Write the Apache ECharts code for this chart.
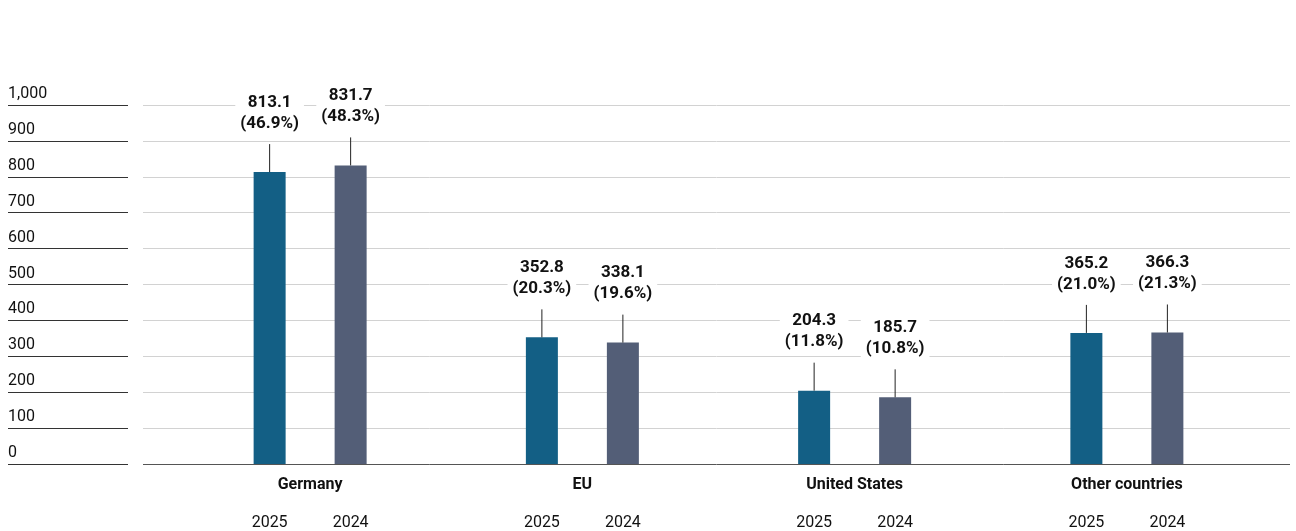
<!DOCTYPE html>
<html>
<head>
<meta charset="utf-8">
<script src="https://cdn.jsdelivr.net/npm/echarts@6/dist/echarts.min.js"></script>
<style>
  html, body { margin: 0; padding: 0; background: #fff; }
  #chart { width: 1296px; height: 531px; }
</style>
</head>
<body>
<div id="chart"></div>
<script>
// Export destinations, values in billions with share of total
const categories = ['Germany', 'EU', 'United States', 'Other countries'];
const years = ['2025', '2024'];
const values2025 = [813.1, 352.8, 204.3, 365.2];
const values2024 = [831.7, 338.1, 185.7, 366.3];
const share2025 = ['46.9', '20.3', '11.8', '21.0'];
const share2024 = ['48.3', '19.6', '10.8', '21.3'];
const yTicks = [0, 100, 200, 300, 400, 500, 600, 700, 800, 900, 1000];

const COLORS = ['#135f85', '#535e77'];
const FONT = 'Roboto, "Open Sans", "DejaVu Sans", sans-serif';
const BAR_W = 32;
const BAR_GAP = 49;
const HALF = (BAR_W + BAR_GAP) / 2;

const yMin = yTicks[0];
const yMax = yTicks[yTicks.length - 1];
const yStep = yTicks[1] - yTicks[0];
const TOP = 105, BOTTOM = 67;

const fmtNum = v => v.toLocaleString('en-US');

function annotationSeries(values, shares, seriesIdx) {
  return {
    type: 'custom',
    xAxisIndex: 0,
    yAxisIndex: 0,
    z: 10,
    clip: false,
    silent: true,
    data: values.map((v, i) => [i, v]),
    renderItem: (params, api) => {
      const idx = api.value(0);
      const v = api.value(1);
      const top = api.coord([idx, v]);
      const base = api.coord([idx, 0]);
      const x = top[0] + (seriesIdx === 0 ? -HALF : HALF);
      const y = top[1];
      return {
        type: 'group',
        children: [
          {
            type: 'line',
            shape: { x1: x, y1: y, x2: x, y2: y - 28 },
            style: { stroke: '#222', lineWidth: 1 }
          },
          {
            type: 'text',
            x: x,
            y: y - 59,
            style: {
              text: v.toFixed(1) + '\n(' + shares[idx] + '%)',
              fontFamily: FONT,
              fontSize: 17,
              fontWeight: 'bold',
              lineHeight: 21,
              fill: '#111',
              align: 'center',
              verticalAlign: 'middle',
              backgroundColor: '#fff',
              padding: [1, 5]
            }
          },
          {
            type: 'text',
            x: x,
            y: base[1] + 59,
            style: {
              text: years[seriesIdx],
              fontFamily: FONT,
              fontSize: 16,
              fill: '#111',
              align: 'center',
              verticalAlign: 'middle'
            }
          }
        ]
      };
    }
  };
}

const gridLineColors = yTicks.map((t, i) => i === 0 ? '#555' : '#d2d2d2');

const option = {
  animation: false,
  backgroundColor: '#fff',
  grid: [
    // bars
    { left: 174, right: 33, top: TOP, bottom: BOTTOM },
    // wide horizontal gridlines
    { left: 143, right: 6, top: TOP, bottom: BOTTOM },
    // short tick rules with labels on the left
    { left: 8, width: 120, top: TOP, bottom: BOTTOM }
  ],
  xAxis: [
    {
      gridIndex: 0,
      type: 'category',
      data: categories,
      axisLine: { show: false },
      axisTick: { show: false },
      axisLabel: {
        margin: 13,
        fontFamily: FONT,
        fontSize: 16,
        fontWeight: 'bold',
        color: '#111',
        verticalAlign: 'top'
      }
    },
    { gridIndex: 1, type: 'value', show: false },
    { gridIndex: 2, type: 'value', show: false }
  ],
  yAxis: [
    { gridIndex: 0, type: 'value', min: yMin, max: yMax, interval: yStep, show: false },
    {
      gridIndex: 1, type: 'value', min: yMin, max: yMax, interval: yStep,
      axisLine: { show: false }, axisTick: { show: false }, axisLabel: { show: false },
      splitLine: { show: true, lineStyle: { color: gridLineColors, width: 1 } }
    },
    {
      gridIndex: 2, type: 'value', min: yMin, max: yMax, interval: yStep,
      axisLine: { show: false }, axisTick: { show: false },
      splitLine: { show: true, lineStyle: { color: '#333', width: 1 } },
      axisLabel: {
        inside: true,
        margin: 0,
        align: 'left',
        verticalAlign: 'bottom',
        padding: [0, 0, 3, 0],
        fontFamily: FONT,
        fontSize: 16,
        color: '#111',
        formatter: v => fmtNum(v)
      }
    }
  ],
  series: [
    {
      name: years[0],
      type: 'bar',
      xAxisIndex: 0, yAxisIndex: 0,
      data: values2025,
      barWidth: BAR_W,
      barGap: (BAR_GAP / BAR_W * 100) + '%',
      itemStyle: { color: COLORS[0] },
      z: 5
    },
    {
      name: years[1],
      type: 'bar',
      xAxisIndex: 0, yAxisIndex: 0,
      data: values2024,
      barWidth: BAR_W,
      barGap: (BAR_GAP / BAR_W * 100) + '%',
      itemStyle: { color: COLORS[1] },
      z: 5
    },
    annotationSeries(values2025, share2025, 0),
    annotationSeries(values2024, share2024, 1)
  ]
};

const chart = echarts.init(document.getElementById('chart'), null, { renderer: 'canvas' });
chart.setOption(option);
</script>
</body>
</html>
